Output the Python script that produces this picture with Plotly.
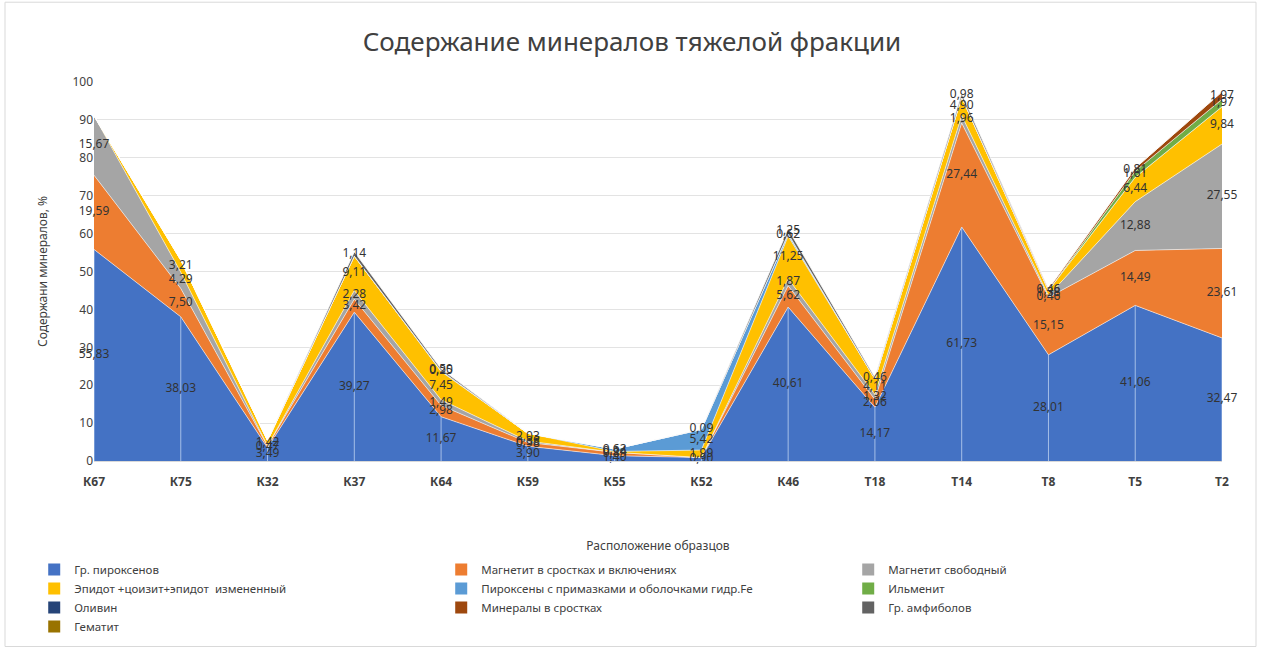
import numpy as np
import plotly.graph_objects as go

# Sample locations along the section
samples = ["К67", "К75", "К32", "К37", "К64", "К59", "К55", "К52",
           "К46", "Т18", "Т14", "Т8", "Т5", "Т2"]

# Heavy-fraction mineral content, % (stacked bottom to top)
piroxenes       = [55.83, 38.03, 3.49, 39.27, 11.67, 3.90, 1.40, 0.90, 40.61, 14.17, 61.73, 28.01, 41.06, 32.47]
magnetite_incl  = [19.59, 7.50, 0.47, 3.42, 2.98, 0.98, 0.89, 0, 5.62, 2.06, 27.44, 15.15, 14.49, 23.61]
magnetite_free  = [15.67, 4.29, 0, 2.28, 1.49, 0.38, 0, 0, 1.87, 1.32, 1.96, 0.46, 12.88, 27.55]
epidote         = [0, 3.21, 1.42, 9.11, 7.45, 2.03, 0.24, 1.99, 11.25, 4.11, 4.90, 1.38, 6.44, 9.84]
piroxenes_fe    = [0, 0, 0, 0, 0.25, 0, 0.62, 5.42, 0.62, 0, 0, 0, 0, 0]
ilmenite        = [0, 0, 0, 0, 0, 0, 0, 0, 0, 0, 0, 0, 1.61, 1.97]
olivine         = [0, 0, 0, 0, 0, 0, 0, 0, 0, 0, 0, 0, 0, 0]
intergrowths    = [0, 0, 0, 0, 0, 0, 0, 0, 0, 0, 0, 0.46, 0.81, 1.97]
amphiboles      = [0, 0, 0, 1.14, 0.50, 0, 0, 0.09, 1.25, 0.46, 0.98, 0, 0, 0]
hematite        = [0, 0, 0, 0, 0, 0, 0, 0, 0, 0, 0, 0, 0, 0]

series_names = [
    "Гр. пироксенов",
    "Магнетит в сростках и включениях",
    "Магнетит свободный",
    "Эпидот +цоизит+эпидот  измененный",
    "Пироксены с примазками и оболочками гидр.Fe",
    "Ильменит",
    "Оливин",
    "Минералы в сростках",
    "Гр. амфиболов",
    "Гематит",
]
series_values = [piroxenes, magnetite_incl, magnetite_free, epidote, piroxenes_fe,
                 ilmenite, olivine, intergrowths, amphiboles, hematite]
series_colors = ["#4472C4", "#ED7D31", "#A5A5A5", "#FFC000", "#5B9BD5",
                 "#70AD47", "#264478", "#9E480E", "#636363", "#997300"]

FONT = "Noto Sans"
fig = go.Figure()

# Stacked areas
for name, vals, col in zip(series_names, series_values, series_colors):
    fig.add_trace(go.Scatter(
        x=samples, y=vals, name=name, stackgroup="one", mode="lines",
        line=dict(width=1, color="rgba(255,255,255,0.55)"),
        fillcolor=col, showlegend=False, hoverinfo="skip",
    ))

# Drop lines under the sample points of the bottom band
for s, v in zip(samples, piroxenes):
    fig.add_trace(go.Scatter(
        x=[s, s], y=[0, v], mode="lines",
        line=dict(width=1, color="rgba(190,210,240,0.8)"),
        showlegend=False, hoverinfo="skip",
    ))

# Data labels centred in each band
arr = np.array(series_values, dtype=float)
base = np.vstack([np.zeros(arr.shape[1]), np.cumsum(arr, axis=0)[:-1]])
for i, vals in enumerate(arr):
    xs, ys, ts = [], [], []
    for j, v in enumerate(vals):
        if v > 0:
            xs.append(samples[j])
            ys.append(base[i, j] + v / 2)
            ts.append(f"{v:.2f}".replace(".", ","))
    if xs:
        fig.add_trace(go.Scatter(
            x=xs, y=ys, text=ts, mode="text", textposition="middle center",
            textfont=dict(family=FONT, size=12, color="#333333"),
            showlegend=False, hoverinfo="skip", cliponaxis=False,
        ))

# Legend entries with square keys
for name, col in zip(series_names, series_colors):
    fig.add_trace(go.Scatter(
        x=[None], y=[None], mode="markers", name=name,
        marker=dict(symbol="square", size=7, color=col),
    ))

fig.update_layout(
    width=1264, height=652,
    margin=dict(l=94, r=42, t=82, b=190),
    paper_bgcolor="white", plot_bgcolor="white",
    title=dict(text="Содержание минералов тяжелой фракции",
               x=0.5, xanchor="center", y=1 - 42 / 652, yanchor="middle",
               font=dict(family=FONT, size=26, color="#404040")),
    font=dict(family=FONT, color="#595959"),
    xaxis=dict(
        type="category", range=[0, len(samples) - 1],
        showgrid=False, showline=True, linecolor="#d9d9d9", ticks="",
        ticklabelstandoff=10,
        tickfont=dict(family=FONT, size=12, color="#404040", weight="bold"),
        title=dict(text="Расположение образцов", standoff=52,
                   font=dict(family=FONT, size=12, color="#404040")),
    ),
    yaxis=dict(
        range=[0, 100], dtick=10, showgrid=True, gridcolor="#e3e3e3",
        zeroline=False, ticks="", tickfont=dict(family=FONT, size=12, color="#404040"),
        title=dict(text="Содержани минералов, %", standoff=22,
                   font=dict(family=FONT, size=12, color="#404040")),
    ),
    legend=dict(
        orientation="h", x=-0.053, xanchor="left", y=-0.245, yanchor="top",
        entrywidth=362, entrywidthmode="pixels", traceorder="normal",
        font=dict(family=FONT, size=11.5, color="#404040"),
        itemsizing="constant",
    ),
    shapes=[dict(type="rect", xref="paper", yref="paper",
                 x0=(5 - 94) / 1128, x1=(1256 - 94) / 1128,
                 y0=(462 - 648) / 380, y1=(462 - 2) / 380,
                 line=dict(color="#d9d9d9", width=1), fillcolor="rgba(0,0,0,0)",
                 layer="above")],
)

fig.write_html("out.html")
